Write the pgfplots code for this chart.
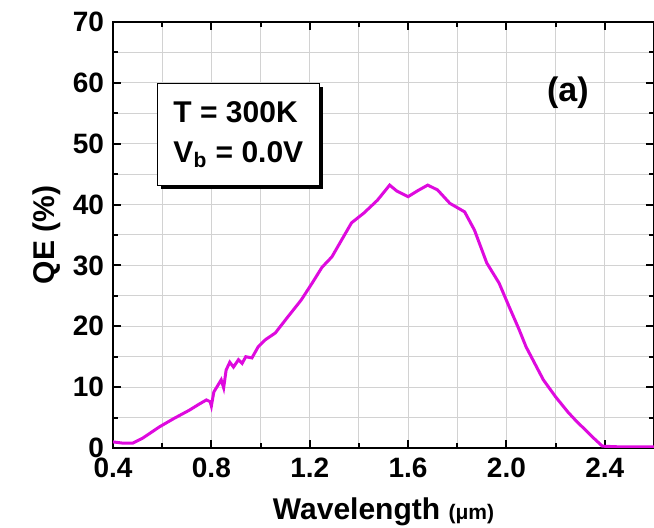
\documentclass[border=0pt]{standalone}
\usepackage{pgfplots}
\pgfplotsset{compat=1.18}
\usepackage{fontspec}
\setmainfont{Liberation Sans}
\usetikzlibrary{shadows}

\definecolor{qemag}{RGB}{222,10,222}

\begin{document}
\begin{tikzpicture}
\begin{axis}[
    scale only axis,
    width=270.5pt,
    height=213pt,
    xmin=0.4, xmax=2.6,
    ymin=0, ymax=70,
    xtick={0.4,0.8,1.2,1.6,2.0,2.4},
    xticklabels={0.4,0.8,1.2,1.6,2.0,2.4},
    ytick={0,10,20,30,40,50,60,70},
    minor x tick num=1,
    minor y tick num=1,
    tick align=inside,
    major tick length=4pt,
    minor tick length=2.5pt,
    grid=both,
    major grid style={gray!35, line width=0.5pt},
    minor grid style={gray!35, line width=0.5pt},
    axis line style={line width=1.1pt},
    every tick/.style={black, line width=1pt},
    /pgf/number format/assume math mode=true,
    tick label style={font=\fontsize{14}{16}\selectfont\bfseries},
    xticklabel style={yshift=-1.5pt},
    yticklabel style={xshift=-1pt},
    xlabel={Wavelength {\fontsize{10.5}{12}\selectfont(μm)}},
    ylabel={QE (\%)},
    label style={font=\fontsize{15}{17}\selectfont\bfseries},
    xlabel style={yshift=-3pt},
    ylabel style={yshift=-1pt},
]
\addplot[qemag, line width=1.5pt] coordinates {
    (0.40,1.0) (0.44,0.8) (0.48,0.8) (0.52,1.6) (0.59,3.5) (0.65,4.9)
    (0.71,6.2) (0.75,7.2) (0.78,7.9) (0.795,7.6) (0.80,6.9) (0.81,9.2)
    (0.825,10.2) (0.84,11.2) (0.85,9.9) (0.86,12.8) (0.875,14.1) (0.89,13.3)
    (0.91,14.5) (0.925,13.9) (0.94,15.0) (0.965,14.8) (0.99,16.6)
    (1.02,17.8) (1.06,18.9) (1.11,21.5) (1.165,24.3) (1.21,27.1)
    (1.25,29.7) (1.29,31.4) (1.33,34.2) (1.37,37.0) (1.42,38.6)
    (1.475,40.7) (1.525,43.2) (1.555,42.2) (1.60,41.3) (1.64,42.3)
    (1.68,43.2) (1.72,42.4) (1.77,40.2) (1.83,38.8) (1.87,35.8)
    (1.92,30.4) (1.97,27.1) (2.01,23.3) (2.05,19.6) (2.08,16.6)
    (2.15,11.2) (2.20,8.4) (2.25,5.9) (2.28,4.6) (2.35,1.8) (2.39,0.3)
    (2.45,0.2) (2.52,0.2) (2.60,0.2)
};
\node[draw=black, line width=0.6pt, fill=white, anchor=north west,
      align=left, inner xsep=5pt, inner ysep=4pt,
      minimum width=81pt, minimum height=51pt,
      font=\fontsize{15}{20}\selectfont\bfseries,
      drop shadow={shadow xshift=1.8pt, shadow yshift=-1.8pt, opacity=1, fill=black}]
      at (axis cs:0.578,60) {T = 300K\\V$_{\mathbf{b}}$ = 0.0V};
\node[font=\fontsize{17}{20}\selectfont\bfseries] at (axis cs:2.25,58.3) {(a)};
\end{axis}
\pgfresetboundingbox
\path[use as bounding box] (-56.5pt,-40pt) rectangle (270.5pt,224pt);
\end{tikzpicture}
\end{document}
